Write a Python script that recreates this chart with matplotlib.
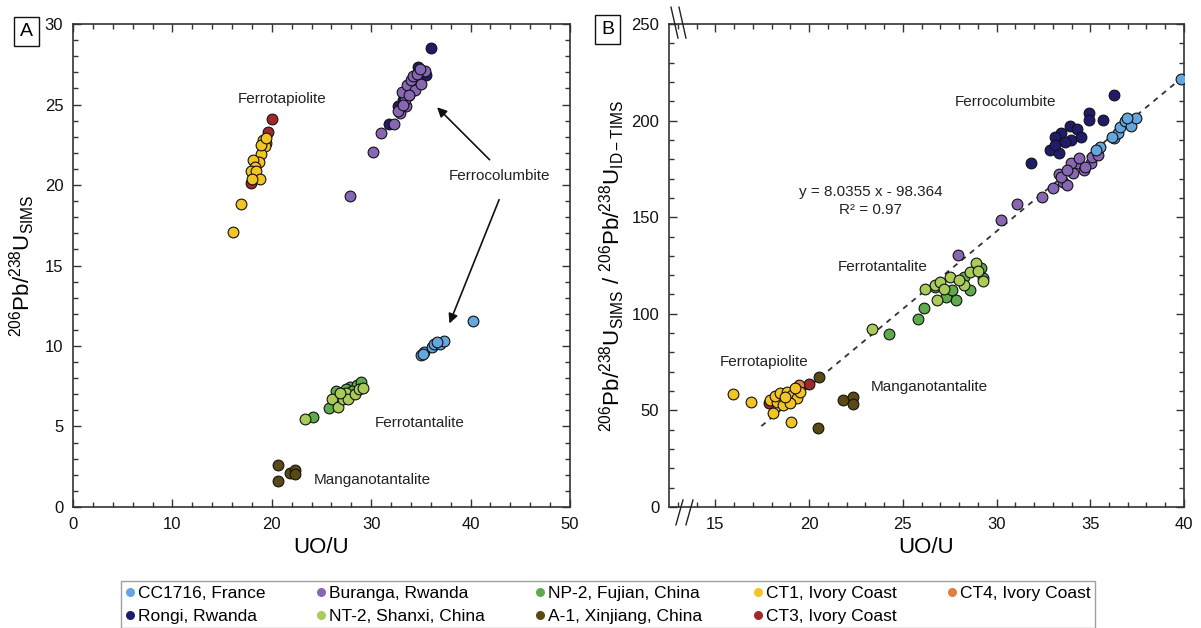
import matplotlib
matplotlib.use("Agg")
import matplotlib.pyplot as plt
from matplotlib.lines import Line2D
from matplotlib.ticker import MultipleLocator
import numpy as np

plt.rcParams['font.family'] = ['Liberation Sans', 'DejaVu Sans']
plt.rcParams['mathtext.fontset'] = 'custom'
plt.rcParams['mathtext.rm'] = 'Liberation Sans'
plt.rcParams['mathtext.it'] = 'Liberation Sans:italic'
plt.rcParams['mathtext.bf'] = 'Liberation Sans:bold'

# ---------------- data: panel A (UO/U, 206Pb/238U SIMS) ----------------
a_cc1716_x = [34.98, 35.36, 35.2, 36.13, 36.32, 36.9, 37.29, 36.6, 40.25]
a_cc1716_y = [9.46, 9.61, 9.5, 9.92, 10.12, 10.12, 10.33, 10.25, 11.57]
a_rongi_x = [36.0, 31.82, 34.7, 35.55, 32.67, 33.2, 34.2, 33.8]
a_rongi_y = [28.53, 23.8, 27.36, 26.84, 24.9, 25.3, 26.2, 25.6]
a_buranga_x = [27.85, 30.16, 31.0, 32.28, 32.9, 33.5, 33.4, 33.05, 33.6, 34.0, 34.4, 33.8,
               34.8, 35.4, 35.0, 34.2, 32.7, 33.2, 34.6, 34.9]
a_buranga_y = [19.34, 22.03, 23.26, 23.8, 24.47, 24.9, 25.3, 25.8, 26.2, 26.5, 25.9, 25.6,
               27.0, 27.1, 26.3, 26.8, 24.6, 25.0, 26.9, 27.2]
a_np2_x = [24.19, 25.73, 26.5, 27.85, 28.6, 29.0, 27.5, 28.1]
a_np2_y = [5.62, 6.14, 7.23, 7.44, 7.58, 7.75, 7.3, 7.2]
a_nt2_x = [23.3, 26.1, 26.7, 27.2, 27.5, 27.7, 28.4, 28.8, 29.2, 26.9]
a_nt2_y = [5.48, 6.7, 6.2, 6.7, 7.1, 6.7, 7.0, 7.3, 7.4, 7.1]
a_a1_x = [20.6, 20.6, 21.88, 22.34, 22.34]
a_a1_y = [2.62, 1.59, 2.13, 2.27, 2.02]
a_ct1_x = [16.1, 16.9, 19.1, 19.3, 18.95, 18.7, 18.1, 18.3, 17.95, 18.45, 18.8, 18.05, 18.95, 19.45]
a_ct1_y = [17.1, 18.8, 22.8, 22.4, 21.9, 21.45, 21.55, 21.1, 20.9, 20.9, 20.35, 20.4, 22.5, 22.9]
a_ct3_x = [20.06, 19.6, 17.95]
a_ct3_y = [24.1, 23.3, 20.15]
a_ct4_x = [19.4]
a_ct4_y = [22.6]

# ---------------- data: panel B (UO/U, ratio SIMS / ID-TIMS) ----------------
b_cc1716_x = [39.83, 36.26, 36.47, 36.57, 36.88, 37.15, 37.46, 36.94, 35.53, 35.32, 36.15]
b_cc1716_y = [221.6, 190.9, 193.8, 196.9, 200.0, 197.2, 201.2, 201.2, 186.6, 184.8, 191.7]
b_rongi_x = [36.26, 34.91, 34.95, 35.7, 33.93, 34.29, 33.45, 34.49, 33.14, 32.83, 33.35,
             33.97, 33.66, 33.14, 31.85]
b_rongi_y = [213.1, 204.1, 200.3, 200.3, 197.2, 195.5, 193.4, 191.4, 191.7, 184.8, 183.1,
             190.0, 189.1, 187.4, 177.9]
b_buranga_x = [27.95, 30.23, 31.1, 32.41, 32.99, 33.35, 33.56, 33.77, 34.08, 34.29, 34.66,
               35.02, 35.12, 35.43, 33.97, 34.39, 34.7, 33.45, 33.77]
b_buranga_y = [130.5, 148.6, 156.7, 160.3, 165.0, 172.4, 168.4, 166.7, 172.8, 177.9, 174.5,
               177.9, 181.4, 182.2, 177.9, 180.5, 176.2, 171.0, 174.5]
b_np2_x = [24.25, 25.83, 26.14, 27.84, 29.3, 28.26, 27.32, 27.63, 28.57, 26.7, 29.19]
b_np2_y = [89.3, 97.1, 103.1, 106.9, 118.4, 119.3, 108.6, 112.1, 112.1, 114.1, 123.6]
b_nt2_x = [23.33, 26.18, 26.8, 26.7, 28.26, 28.88, 27.53, 29.3, 27.0, 28.0, 28.6, 27.2, 29.0]
b_nt2_y = [92.2, 112.6, 107.4, 114.7, 114.7, 126.2, 119.3, 117.2, 116.5, 117.5, 121.5, 113.0, 122.0]
b_a1_x = [20.54, 21.82, 22.34, 22.34, 20.45]
b_a1_y = [67.4, 55.5, 56.9, 53.4, 40.7]
b_ct1_x = [15.95, 16.88, 18.08, 19.03, 17.9, 18.27, 18.62, 18.17, 18.44, 18.8, 19.07, 19.33,
           19.5, 19.24, 18.98, 18.7]
b_ct1_y = [58.4, 54.4, 48.4, 44.1, 55.3, 54.4, 52.7, 57.4, 58.8, 59.6, 57.9, 56.2,
           59.6, 61.4, 53.6, 57.0]
b_ct3_x = [20.0, 17.87]
b_ct3_y = [63.6, 53.6]
b_ct4_x = [19.47]
b_ct4_y = [63.1]

fit_slope = 8.0355
fit_intercept = -98.364
fit_x = [17.45, 40.0]

series_labels = ['CC1716, France', 'Rongi, Rwanda', 'Buranga, Rwanda', 'NT-2, Shanxi, China',
                 'NP-2, Fujian, China', 'A-1, Xinjiang, China', 'CT1, Ivory Coast',
                 'CT3, Ivory Coast', 'CT4, Ivory Coast']
colors = {
    'CC1716, France': '#64A6DE',
    'Rongi, Rwanda': '#201C6C',
    'Buranga, Rwanda': '#8767B3',
    'NT-2, Shanxi, China': '#A8CB5A',
    'NP-2, Fujian, China': '#5EAB4E',
    'A-1, Xinjiang, China': '#5A4915',
    'CT1, Ivory Coast': '#F3C522',
    'CT3, Ivory Coast': '#A3282A',
    'CT4, Ivory Coast': '#E0803F',
}

fig = plt.figure(figsize=(12.01, 6.28), dpi=100)
axA = fig.add_axes([0.0608, 0.1927, 0.4138, 0.769])
axB = fig.add_axes([0.557, 0.1927, 0.4288, 0.769])

ms = 60
ekw = dict(edgecolors='#111111', linewidths=0.8, zorder=3)

def draw(ax, sets):
    for lab, xs, ys in sets:
        ax.scatter(xs, ys, s=ms, c=colors[lab], **ekw)

draw(axA, [
    ('Rongi, Rwanda', a_rongi_x, a_rongi_y),
    ('Buranga, Rwanda', a_buranga_x, a_buranga_y),
    ('CC1716, France', a_cc1716_x, a_cc1716_y),
    ('NP-2, Fujian, China', a_np2_x, a_np2_y),
    ('NT-2, Shanxi, China', a_nt2_x, a_nt2_y),
    ('A-1, Xinjiang, China', a_a1_x, a_a1_y),
    ('CT3, Ivory Coast', a_ct3_x, a_ct3_y),
    ('CT4, Ivory Coast', a_ct4_x, a_ct4_y),
    ('CT1, Ivory Coast', a_ct1_x, a_ct1_y),
])

fx = np.array(fit_x)
axB.plot(fx, fit_slope * fx + fit_intercept, ls=(0, (3, 3)), color='#333333', lw=1.3, zorder=2)
draw(axB, [
    ('Rongi, Rwanda', b_rongi_x, b_rongi_y),
    ('Buranga, Rwanda', b_buranga_x, b_buranga_y),
    ('CC1716, France', b_cc1716_x, b_cc1716_y),
    ('NP-2, Fujian, China', b_np2_x, b_np2_y),
    ('NT-2, Shanxi, China', b_nt2_x, b_nt2_y),
    ('A-1, Xinjiang, China', b_a1_x, b_a1_y),
    ('CT3, Ivory Coast', b_ct3_x, b_ct3_y),
    ('CT4, Ivory Coast', b_ct4_x, b_ct4_y),
    ('CT1, Ivory Coast', b_ct1_x, b_ct1_y),
])

# axes styling
for ax in (axA, axB):
    for sp in ax.spines.values():
        sp.set_color('#333333')
        sp.set_linewidth(1.2)
    ax.tick_params(which='both', direction='in', top=True, right=True, colors='#333333',
                   labelcolor='#111111', labelsize=12, width=1.0)
    ax.tick_params(which='major', length=6, pad=7)
    ax.tick_params(which='minor', length=3.5)

axA.set_xlim(0, 50)
axA.set_ylim(0, 30)
axA.xaxis.set_major_locator(MultipleLocator(10))
axA.xaxis.set_minor_locator(MultipleLocator(2))
axA.yaxis.set_major_locator(MultipleLocator(5))
axA.yaxis.set_minor_locator(MultipleLocator(1))

axB.set_xlim(12.52, 40)
axB.set_ylim(0, 250)
axB.xaxis.set_major_locator(MultipleLocator(5))
axB.xaxis.set_minor_locator(MultipleLocator(1))
axB.yaxis.set_major_locator(MultipleLocator(50))
axB.yaxis.set_minor_locator(MultipleLocator(10))

axA.set_xlabel('UO/U', fontsize=16)
axB.set_xlabel('UO/U', fontsize=16)
axA.xaxis.set_label_coords(0.5, -0.063)
axB.xaxis.set_label_coords(0.5, -0.063)
axA.set_ylabel(r'$^{206}\mathrm{Pb}/^{238}\mathrm{U}_{\mathrm{SIMS}}$', fontsize=16)
axA.yaxis.set_label_coords(-0.072, 0.5)
axB.set_ylabel(r'$^{206}\mathrm{Pb}/^{238}\mathrm{U}_{\mathrm{SIMS}}\ /\ ^{206}\mathrm{Pb}/^{238}\mathrm{U}_{\mathrm{ID-TIMS}}$', fontsize=16)
axB.yaxis.set_label_coords(-0.082, 0.5)

# annotations panel A
tk = dict(fontsize=11, color='#222222', ha='center', va='center')
axA.text(21.0, 25.35, 'Ferrotapiolite', **tk)
axA.text(42.95, 20.54, 'Ferrocolumbite', **tk)
axA.text(34.86, 5.23, 'Ferrotantalite', **tk)
axA.text(30.16, 1.65, 'Manganotantalite', **tk)
ap = dict(arrowstyle='-|>', color='#111111', lw=1.2, mutation_scale=14, shrinkA=0, shrinkB=0)
axA.annotate('', xy=(36.63, 24.83), xytext=(41.91, 21.57), arrowprops=ap)
axA.annotate('', xy=(37.87, 11.4), xytext=(42.87, 19.09), arrowprops=ap)

# annotations panel B
axB.text(30.5, 209.8, 'Ferrocolumbite', **tk)
axB.text(23.27, 163.3, 'y = 8.0355 x - 98.364', **tk)
axB.text(23.27, 153.8, 'R² = 0.97', **tk)
axB.text(23.94, 124.0, 'Ferrotantalite', **tk)
axB.text(17.6, 75.0, 'Ferrotapiolite', **tk)
axB.text(26.43, 62.1, 'Manganotantalite', **tk)

# axis break marks on panel B
bk = dict(transform=axB.transAxes, color='#222222', lw=1.0, clip_on=False, zorder=5)
axB.plot([0.004, 0.0175], [1.035, 0.971], **bk)
axB.plot([0.0195, 0.033], [1.035, 0.971], **bk)
axB.plot([0.0136, 0.0272], [-0.037, 0.0145], **bk)
axB.plot([0.033, 0.0466], [-0.037, 0.0145], **bk)

# panel letters
box = dict(boxstyle='square,pad=0.3', fc='white', ec='#111111', lw=1.0)
fig.text(0.022, 0.950, 'A', fontsize=14, ha='center', va='center', bbox=box)
fig.text(0.506, 0.953, 'B', fontsize=14, ha='center', va='center', bbox=box)

# legend
handles = [Line2D([], [], ls='none', marker='o', markersize=6.5, markerfacecolor=colors[l],
                  markeredgewidth=0) for l in series_labels]
fig.legend(handles, series_labels, ncol=5, loc='lower center', bbox_to_anchor=(0.506, 0.0),
           frameon=True, fancybox=False, edgecolor='#888888', fontsize=12.5, handlelength=0.6,
           handletextpad=0.15, columnspacing=2.9, borderpad=0.25, labelspacing=0.45,
           borderaxespad=0.0)

fig.savefig('out.png', dpi=100)
